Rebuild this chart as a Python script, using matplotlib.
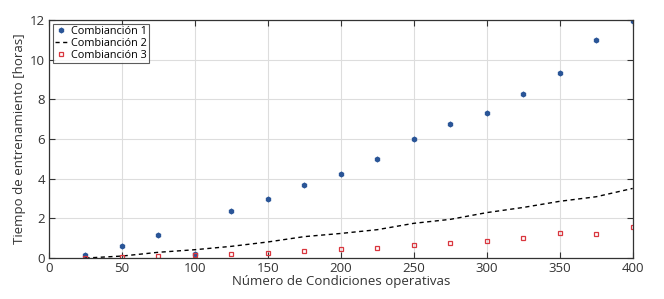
import matplotlib
matplotlib.use("Agg")
import matplotlib.pyplot as plt

# number of operating conditions
condiciones = [25, 50, 75, 100, 125, 150, 175, 200, 225, 250, 275, 300, 325, 350, 375, 400]

# training time [hours]
comb1 = [0.15, 0.6, 1.14, 0.18, 2.39, 3.0, 3.7, 4.25, 5.0, 6.02, 6.78, 7.33, 8.28, 9.35, 10.97, 11.93]
comb2 = [0.0, 0.1, 0.29, 0.42, 0.59, 0.81, 1.08, 1.24, 1.43, 1.75, 1.95, 2.29, 2.55, 2.86, 3.09, 3.51]
comb3 = [0.02, 0.05, 0.08, 0.15, 0.2, 0.25, 0.33, 0.44, 0.5, 0.67, 0.76, 0.87, 0.99, 1.24, 1.19, 1.55]

plt.rcParams['font.family'] = ['Open Sans', 'DejaVu Sans']

fig = plt.figure(figsize=(6.64, 2.99), dpi=100)
ax = fig.add_axes([0.0738, 0.137, 0.879, 0.796])

ax.plot(condiciones, comb1, linestyle='none', marker='h', markersize=3.3,
        color='#2a5597', label='Combianción 1')
ax.plot(condiciones, comb2, linestyle=(0, (3, 2.5)), color='black', linewidth=1.0,
        label='Combianción 2')
ax.plot(condiciones, comb3, linestyle='none', marker='s', markersize=3.3,
        markerfacecolor='none', markeredgecolor='#d9363e', markeredgewidth=0.9,
        label='Combianción 3')

ax.set_xlim(0, 400)
ax.set_ylim(0, 12)
ax.set_xticks(range(0, 401, 50))
ax.set_yticks(range(0, 13, 2))
ax.grid(True, color='#dddddd', linewidth=0.8)
ax.set_axisbelow(True)

ax.tick_params(direction='in', top=True, right=True, length=4, width=0.8,
               labelsize=9.5, colors='#333333', pad=3)
for s in ax.spines.values():
    s.set_color('#333333')
    s.set_linewidth(0.9)

ax.set_xlabel('Número de Condiciones operativas', fontsize=9.5, color='#333333', labelpad=0)
ax.set_ylabel('Tiempo de entrenamiento [horas]', fontsize=9.5, color='#333333', labelpad=3)

leg = ax.legend(loc='upper left', fontsize=7.8, frameon=True, fancybox=False,
                edgecolor='#333333', borderpad=0.2, labelspacing=0.1,
                handlelength=1.2, handletextpad=0.3, borderaxespad=0.35)
leg.get_frame().set_linewidth(0.8)

fig.savefig('out.png', dpi=100)
